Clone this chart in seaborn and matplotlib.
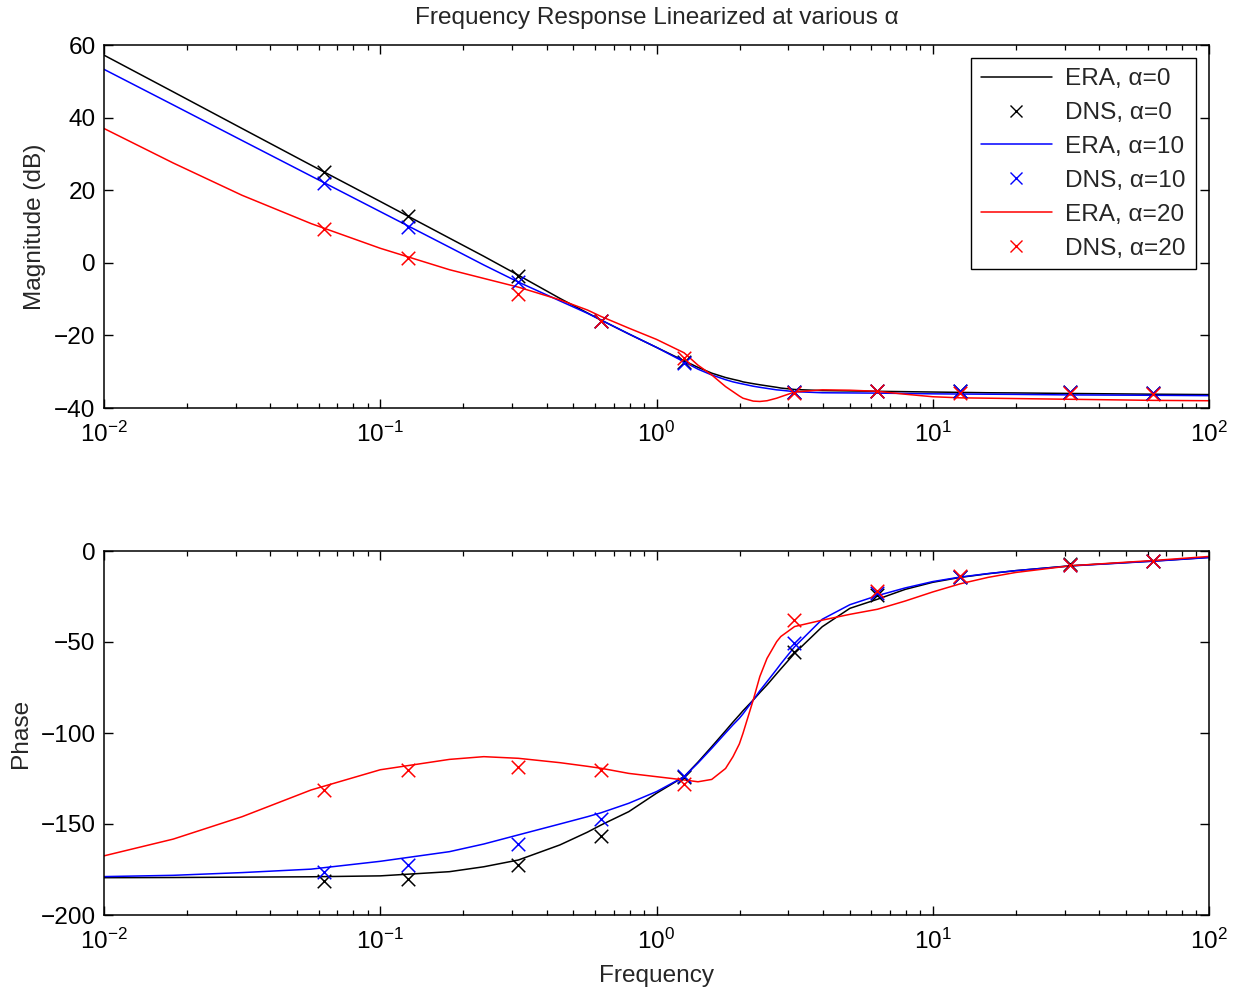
import matplotlib
matplotlib.use("Agg")
import matplotlib.pyplot as plt
from matplotlib.lines import Line2D
import numpy as np
import pandas as pd
import seaborn as sns

# ---------------- data ----------------
ERA_FREQ = [0.01, 0.0178, 0.0316, 0.0562, 0.1, 0.178, 0.237, 0.316, 0.447, 0.562,
            0.631, 0.794, 1.0, 1.259, 1.413, 1.585, 1.778, 1.892, 1.995, 2.056,
            2.239, 2.366, 2.512, 2.723, 2.818, 3.162, 3.981, 5.012, 6.310, 7.943,
            10.0, 12.59, 15.85, 19.95, 31.62, 63.10, 100.0]

ERA_MAG_A0 = [57.2, 47.1, 37.0, 26.9, 16.9, 6.8, 1.8, -3.4, -9.8, -13.8,
              -15.8, -19.6, -23.3, -27.0, -28.8, -30.4, -31.6, -32.1, -32.5, -32.8,
              -33.3, -33.6, -33.9, -34.3, -34.5, -34.9, -35.2, -35.3, -35.4, -35.5,
              -35.6, -35.7, -35.8, -35.85, -36.0, -36.2, -36.3]
ERA_MAG_A10 = [53.3, 43.5, 33.7, 23.9, 14.1, 4.3, -0.6, -5.3, -10.5, -13.9,
               -15.8, -19.6, -23.3, -27.3, -29.3, -30.9, -32.2, -32.8, -33.2, -33.4,
               -34.0, -34.3, -34.6, -35.0, -35.1, -35.5, -35.8, -35.85, -35.9, -36.0,
               -36.1, -36.15, -36.2, -36.25, -36.4, -36.5, -36.6]
ERA_MAG_A20 = [37.0, 27.5, 18.6, 10.8, 4.0, -1.9, -4.3, -6.7, -10.2, -13.0,
               -14.8, -18.0, -21.1, -24.8, -28.2, -30.9, -34.1, -35.5, -36.7, -37.3,
               -38.1, -38.2, -38.0, -37.3, -36.9, -35.6, -35.0, -35.1, -35.4, -36.2,
               -36.9, -37.2, -37.3, -37.4, -37.6, -37.9, -38.0]

ERA_PH_A0 = [-179.5, -179.4, -179.2, -179.0, -178.5, -176.2, -173.5, -169.8, -161.5, -154.5,
             -150.5, -143.2, -133.1, -124.0, -116.0, -107.5, -98.8, -94.0, -90.1, -87.8,
             -81.9, -77.8, -73.6, -67.4, -64.8, -56.2, -41.6, -31.5, -26.5, -21.1,
             -17.2, -14.5, -12.5, -10.8, -8.1, -5.5, -3.5]
ERA_PH_A10 = [-178.9, -178.2, -176.7, -174.8, -170.5, -165.2, -161.0, -156.0, -150.0, -146.0,
              -143.8, -138.6, -132.2, -124.0, -116.5, -108.4, -100.0, -95.5, -91.9, -89.5,
              -81.9, -76.8, -71.8, -65.0, -62.0, -52.6, -37.5, -29.5, -24.5, -20.3,
              -16.8, -14.3, -12.4, -10.8, -8.2, -5.6, -3.6]
ERA_PH_A20 = [-167.5, -158.3, -146.0, -131.3, -120.2, -114.5, -113.0, -113.9, -116.3, -118.3,
              -119.4, -122.2, -124.0, -125.8, -126.8, -125.5, -119.5, -113.0, -106.0, -100.2,
              -81.9, -69.0, -59.0, -49.8, -47.0, -41.5, -38.0, -34.8, -32.0, -27.5,
              -22.5, -18.0, -14.5, -11.8, -8.1, -5.2, -3.0]

DNS_FREQ = [0.0628, 0.1257, 0.3142, 0.6283, 1.2566, 3.1416, 6.2832, 12.566, 31.416, 62.832]
DNS_MAG_A0 = [25.0, 12.9, -3.6, -16.0, -27.3, -35.5, -35.3, -35.3, -35.6, -35.8]
DNS_MAG_A10 = [22.0, 9.9, -5.3, -16.0, -27.6, -35.6, -35.4, -35.4, -35.7, -35.8]
DNS_MAG_A20 = [9.3, 1.3, -8.6, -15.9, -26.2, -36.0, -35.4, -35.8, -36.0, -36.1]
DNS_PH_A0 = [-181.3, -180.2, -172.5, -156.6, -124.2, -55.3, -24.2, -14.3, -7.1, -5.5]
DNS_PH_A10 = [-176.3, -172.5, -161.0, -147.3, -123.6, -50.4, -22.9, -14.1, -7.7, -5.5]
DNS_PH_A20 = [-131.3, -120.3, -118.7, -120.3, -128.0, -37.9, -21.8, -13.7, -7.7, -5.5]

ALPHAS = ["0", "10", "20"]
COLORS = ["black", "blue", "red"]

TITLE = "Frequency Response Linearized at various α"
YLABEL_TOP = "Magnitude (dB)"
YLABEL_BOT = "Phase"
XLABEL = "Frequency"

# ---------------- styling ----------------
sns.set_style("ticks")
FS = 17.6
plt.rcParams["font.family"] = ["Liberation Sans", "DejaVu Sans"]
plt.rcParams.update({
    "xtick.direction": "in", "ytick.direction": "in",
    "xtick.top": True, "ytick.right": True,
    "xtick.major.size": 6.5, "ytick.major.size": 6.5,
    "xtick.minor.size": 3.5, "ytick.minor.size": 3.5,
    "xtick.major.width": 1.0, "ytick.major.width": 1.0,
    "xtick.minor.width": 0.9, "ytick.minor.width": 0.9,
    "axes.edgecolor": "black", "axes.linewidth": 1.1,
    "xtick.color": "black", "ytick.color": "black",
    "font.size": FS,
})

fig = plt.figure(figsize=(12.42, 9.92), dpi=100)
ax1 = fig.add_axes([104 / 1242, 1 - 408 / 992, 1105 / 1242, 363 / 992])
ax2 = fig.add_axes([104 / 1242, 1 - 915 / 992, 1105 / 1242, 364 / 992])

era_mag = [ERA_MAG_A0, ERA_MAG_A10, ERA_MAG_A20]
era_ph = [ERA_PH_A0, ERA_PH_A10, ERA_PH_A20]
dns_mag = [DNS_MAG_A0, DNS_MAG_A10, DNS_MAG_A20]
dns_ph = [DNS_PH_A0, DNS_PH_A10, DNS_PH_A20]

for ax, era, dns in [(ax1, era_mag, dns_mag), (ax2, era_ph, dns_ph)]:
    for a, c, ye, yd in zip(ALPHAS, COLORS, era, dns):
        df_e = pd.DataFrame({"f": ERA_FREQ, "v": ye})
        df_d = pd.DataFrame({"f": DNS_FREQ, "v": yd})
        sns.lineplot(data=df_e, x="f", y="v", color=c, linewidth=1.1, ax=ax,
                     legend=False, sort=False, estimator=None)
        sns.scatterplot(data=df_d, x="f", y="v", marker="x", color=c, s=95,
                        linewidth=1.1, ax=ax, legend=False, zorder=3)
    ax.set_xscale("log")
    ax.set_xlim(1e-2, 1e2)
    ax.tick_params(axis="both", which="both", labelsize=FS)
    ax.tick_params(axis="x", which="both", pad=10)
    ax.tick_params(axis="y", which="both", pad=6)
    ax.set_xlabel("")
    for s in ax.spines.values():
        s.set_visible(True)

ax1.set_ylim(-40, 60)
ax1.set_yticks([-40, -20, 0, 20, 40, 60])
ax2.set_ylim(-200, 0)
ax2.set_yticks([-200, -150, -100, -50, 0])

ax1.set_ylabel(YLABEL_TOP, fontsize=FS, labelpad=6)
ax2.set_ylabel(YLABEL_BOT, fontsize=FS, labelpad=6)
ax2.set_xlabel(XLABEL, fontsize=FS, labelpad=8)
ax1.set_title(TITLE, fontsize=FS, pad=15)

handles, labels = [], []
for a, c in zip(ALPHAS, COLORS):
    handles.append(Line2D([], [], color=c, linewidth=1.1))
    labels.append(f"ERA, α={a}")
    handles.append(Line2D([], [], color=c, marker="x", linestyle="none",
                          markersize=8, markeredgewidth=1.0))
    labels.append(f"DNS, α={a}")
leg = ax1.legend(handles, labels, loc="upper right", fontsize=FS, frameon=True,
                 fancybox=False, edgecolor="black", framealpha=1,
                 handlelength=2.9, labelspacing=0.48, borderaxespad=0.55,
                 handletextpad=0.55, borderpad=0.4)
leg.get_frame().set_linewidth(1.0)

fig.savefig("out.png", dpi=100, facecolor="white")
